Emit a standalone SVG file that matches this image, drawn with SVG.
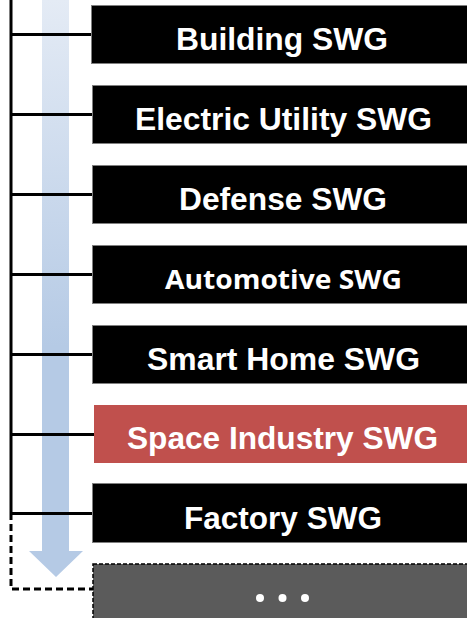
<svg xmlns="http://www.w3.org/2000/svg" width="467" height="618" viewBox="0 0 467 618">
<defs>
<linearGradient id="arrowGrad" x1="0" y1="0" x2="0" y2="1">
<stop offset="0" stop-color="#e4ebf5"/>
<stop offset="0.6" stop-color="#b5cae5"/>
<stop offset="1" stop-color="#b5cae5"/>
</linearGradient>
<style>
.box{fill:#000;stroke:#7f7f7f;stroke-width:1}
.lbl{fill:#fff;font-family:"Liberation Sans",Arial,sans-serif;font-weight:bold;font-size:30.5px;text-anchor:middle}
.lbl2{fill:#fff;font-family:"Open Sans","Noto Sans",sans-serif;font-weight:bold;font-size:27px;text-anchor:middle}
.conn{stroke:#000;stroke-width:3;fill:none}
.dash{stroke:#000;stroke-width:3;fill:none;stroke-dasharray:7,4}
</style>
</defs>
<rect width="467" height="618" fill="#fff"/>
<polygon id="flow-arrow" points="42,0 69,0 69,551 83,551 56,577 29,551 42,551" fill="url(#arrowGrad)"/>
<g id="connectors">
<path class="conn" d="M11,0 V513"/>
<path class="conn" d="M11,34.5 H92"/>
<path class="conn" d="M11,114.5 H92"/>
<path class="conn" d="M11,194.5 H92"/>
<path class="conn" d="M11,274.5 H92"/>
<path class="conn" d="M11,354.5 H92"/>
<path class="conn" d="M11,434.5 H94"/>
<path class="conn" d="M11,513.5 H92"/>
<path class="dash" d="M11,513 V589 H93"/>
</g>
<g id="building"><rect class="box" x="91.5" y="5.5" width="390" height="58"/><text class="lbl" x="282" y="50" textLength="212" lengthAdjust="spacingAndGlyphs">Building SWG</text></g>
<g id="electric"><rect class="box" x="92.5" y="85.5" width="390" height="58"/><text class="lbl" x="283.5" y="130" textLength="297" lengthAdjust="spacingAndGlyphs">Electric Utility SWG</text></g>
<g id="defense"><rect class="box" x="92.5" y="165.5" width="390" height="58"/><text class="lbl" x="283" y="210" textLength="208" lengthAdjust="spacingAndGlyphs">Defense SWG</text></g>
<g id="automotive"><rect class="box" x="92.5" y="245.5" width="390" height="58"/><text class="lbl2" x="283.5" y="289" textLength="237" lengthAdjust="spacingAndGlyphs">Automotive SWG</text></g>
<g id="smarthome"><rect class="box" x="92.5" y="325.5" width="390" height="58"/><text class="lbl" x="283.5" y="370" textLength="273" lengthAdjust="spacingAndGlyphs">Smart Home SWG</text></g>
<g id="space"><rect x="94" y="405" width="390" height="58" fill="#c0504d"/><text class="lbl" x="282.5" y="449" textLength="311" lengthAdjust="spacingAndGlyphs">Space Industry SWG</text></g>
<g id="factory"><rect class="box" x="92.5" y="483.5" width="390" height="59"/><text class="lbl" x="283" y="529" textLength="198" lengthAdjust="spacingAndGlyphs">Factory SWG</text></g>
<g id="more"><rect x="93" y="564" width="390" height="70" fill="#5b5b5b" stroke="#000" stroke-width="1.5" stroke-dasharray="4,2"/><circle cx="260" cy="598" r="4" fill="#fff"/><circle cx="282.5" cy="598" r="4" fill="#fff"/><circle cx="305" cy="598" r="4" fill="#fff"/></g>
</svg>
